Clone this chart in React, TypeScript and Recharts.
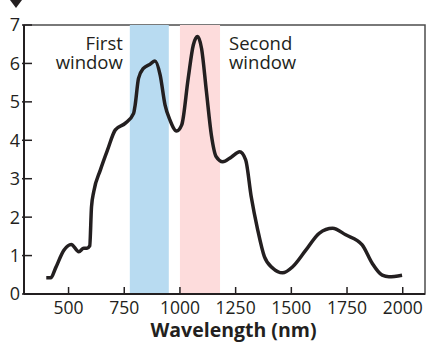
import React from 'react';
import { ComposedChart, Line, XAxis, YAxis, ReferenceArea } from 'recharts';

const wavelength = [400, 420, 442, 479, 512, 546, 568, 583, 595, 603, 613, 643, 675, 710, 754, 792, 799, 814, 836, 866, 888, 911, 933, 955, 985, 1008, 1037, 1060, 1079, 1097, 1119, 1141, 1163, 1192, 1230, 1268, 1295, 1320, 1349, 1379, 1417, 1461, 1506, 1565, 1625, 1685, 1744, 1818, 1863, 1908, 1938, 1997];
const attenuation = [0.42, 0.42, 0.68, 1.14, 1.29, 1.1, 1.19, 1.19, 1.25, 2.27, 2.66, 3.23, 3.75, 4.27, 4.44, 4.7, 4.92, 5.61, 5.87, 5.98, 6.06, 5.7, 4.92, 4.53, 4.24, 4.4, 5.61, 6.48, 6.7, 6.39, 5.26, 4.14, 3.57, 3.44, 3.56, 3.7, 3.49, 2.53, 1.67, 0.97, 0.67, 0.55, 0.71, 1.14, 1.58, 1.71, 1.54, 1.28, 0.8, 0.49, 0.45, 0.49];
const xTicks = [500, 750, 1000, 1250, 1500, 1750, 2000];
const yTicks = [0, 1, 2, 3, 4, 5, 6, 7];
const xDomain = [300, 2100];
const yDomain = [0, 7];
const firstWindow = [775, 950];
const secondWindow = [1000, 1180];
const firstLabel = ['First', 'window'];
const secondLabel = ['Second', 'window'];
const xTitle = 'Wavelength (nm)';

const data = wavelength.map((w, i) => ({ w, a: attenuation[i] }));

const FONT = '"Open Sans", "Noto Sans", sans-serif';
const INK = '#231f20';

const XTick = (props: any) => {
  const { x, y, payload } = props;
  return (
    <g>
      <line x1={x} x2={x} y1={y - 7} y2={y} stroke={INK} strokeWidth={1.5} />
      <text x={x} y={y + 19.5} textAnchor="middle" fontFamily={FONT} fontSize={17.5} fill={INK}>
        {payload.value}
      </text>
    </g>
  );
};

const YTick = (props: any) => {
  const { x, y, payload } = props;
  return (
    <g>
      <line x1={x - 2} x2={x + 8} y1={y} y2={y} stroke={INK} strokeWidth={1.5} />
      <text x={x - 4} y={y} dy="0.36em" textAnchor="end" fontFamily={FONT} fontSize={18} fill={INK}>
        {payload.value}
      </text>
    </g>
  );
};

const WindowLabel = (lines: string[], side: 'left' | 'right') => (props: any) => {
  const vb = props.viewBox;
  const x = side === 'left' ? vb.x - 7 : vb.x + vb.width + 9;
  return (
    <g>
      {lines.map((l, i) => (
        <text
          key={i}
          x={x}
          y={vb.y + 24.5 + i * 19}
          textAnchor={side === 'left' ? 'end' : 'start'}
          fontFamily={FONT}
          fontSize={18.5}
          fill={INK}
        >
          {l}
        </text>
      ))}
    </g>
  );
};

const XTitle = (props: any) => {
  const vb = props.viewBox;
  return (
    <text
      x={vb.x + vb.width / 2 + 9}
      y={vb.y + 43.2}
      textAnchor="middle"
      fontFamily={FONT}
      fontWeight="bold"
      fontSize={19.5}
      fill={INK}
    >
      {xTitle}
    </text>
  );
};

export default function App() {
  return (
    <div style={{ position: 'absolute', left: 0, top: 0, width: 427, height: 343, background: '#fff' }}>
      <svg width={30} height={12} style={{ position: 'absolute', left: 0, top: 0 }}>
        <polygon points="10,0 22,0 16,8" fill={INK} />
      </svg>
      <ComposedChart width={427} height={343} data={data} margin={{ top: 25, right: 2, bottom: 0, left: 0 }}>
        <ReferenceArea
          x1={xDomain[0]}
          x2={xDomain[1]}
          y1={yDomain[0]}
          y2={yDomain[1]}
          fill="none"
          stroke="#4d4d4d"
          strokeWidth={1.5}
        />
        <ReferenceArea
          x1={firstWindow[0]}
          x2={firstWindow[1]}
          y1={yDomain[0]}
          y2={yDomain[1]}
          fill="#b8dbf1"
          fillOpacity={1}
          stroke="none"
          label={{ content: WindowLabel(firstLabel, 'left') } as any}
        />
        <ReferenceArea
          x1={secondWindow[0]}
          x2={secondWindow[1]}
          y1={yDomain[0]}
          y2={yDomain[1]}
          fill="#fddcdc"
          fillOpacity={1}
          stroke="none"
          label={{ content: WindowLabel(secondLabel, 'right') } as any}
        />
        <XAxis
          dataKey="w"
          type="number"
          domain={xDomain}
          ticks={xTicks}
          height={49}
          tickSize={0}
          tickMargin={0}
          tickLine={false}
          tick={<XTick />}
          axisLine={{ stroke: INK, strokeWidth: 2 }}
          allowDataOverflow
          label={{ content: XTitle } as any}
        />
        <YAxis
          type="number"
          domain={yDomain}
          ticks={yTicks}
          width={24}
          tickSize={0}
          tickMargin={0}
          tickLine={false}
          tick={<YTick />}
          axisLine={{ stroke: INK, strokeWidth: 2 }}
          allowDataOverflow
        />
        <Line
          type="monotone"
          dataKey="a"
          stroke={INK}
          strokeWidth={3.5}
          dot={false}
          isAnimationActive={false}
        />
      </ComposedChart>
    </div>
  );
}
